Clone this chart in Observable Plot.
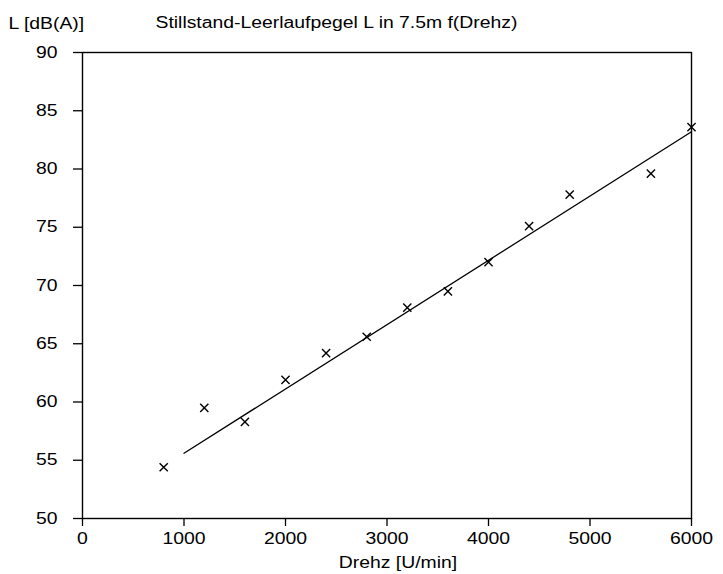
<!DOCTYPE html>
<html>
<head>
<meta charset="utf-8">
<script src="https://cdn.jsdelivr.net/npm/d3@7"></script>
<script src="https://cdn.jsdelivr.net/npm/@observablehq/plot@0.6"></script>
<style>
  html, body { margin: 0; padding: 0; background: #fff; }
  #chart { width: 723px; height: 574px; }
</style>
</head>
<body>
<div id="chart"></div>
<script>
// Measured points: engine speed [U/min] and level L [dB(A)]
const drehz = [800, 1200, 1600, 2000, 2400, 2800, 3200, 3600, 4000, 4400, 4800, 5600, 6000];
const pegel = [54.4, 59.5, 58.3, 61.9, 64.2, 65.6, 68.1, 69.5, 72.0, 75.1, 77.8, 79.6, 83.6];
// Fitted line end points
const fitDrehz = [1000, 6000];
const fitPegel = [55.6, 83.2];
// Axis ticks
const xTicks = [0, 1000, 2000, 3000, 4000, 5000, 6000];
const yTicks = [50, 55, 60, 65, 70, 75, 80, 85, 90];
// Texts
const titleText = "Stillstand-Leerlaufpegel L in 7.5m f(Drehz)";
const yLabel = "L [dB(A)]";
const xLabel = "Drehz [U/min]";

const points = drehz.map((d, i) => ({x: d, y: pegel[i]}));
const fit = fitDrehz.map((d, i) => ({x: d, y: fitPegel[i]}));

const chart = Plot.plot({
  width: 723,
  height: 574,
  marginTop: 52,
  marginBottom: 56,
  marginLeft: 82,
  marginRight: 32,
  style: {fontFamily: "'Liberation Sans', Arial, sans-serif", fontSize: "16px", color: "black", background: "white"},
  x: {domain: [0, 6000]},
  y: {domain: [50, 90]},
  marks: [
    Plot.frame({stroke: "black", strokeWidth: 1.4}),
    Plot.axisX({ticks: xTicks, tickSize: 8, tickPadding: 6, tickFormat: d => String(d), label: null, fontSize: 16, strokeWidth: 1.3}),
    Plot.axisY({ticks: yTicks, tickSize: 9, tickPadding: 16, tickFormat: d => String(d), label: null, fontSize: 16, strokeWidth: 1.3}),
    Plot.line(fit, {x: "x", y: "y", stroke: "black", strokeWidth: 1.3}),
    Plot.dot(points, {x: "x", y: "y", symbol: "times", r: 3.8, stroke: "black", strokeWidth: 1.4}),
    Plot.text([yLabel], {frameAnchor: "top-left", text: d => d, dx: -74, dy: -35, textAnchor: "start", fontSize: 16, fill: "black"}),
    Plot.text([titleText], {frameAnchor: "top-left", text: d => d, dx: 73, dy: -36, textAnchor: "start", fontSize: 16, fill: "black"}),
    Plot.text([xLabel], {frameAnchor: "bottom", text: d => d, dx: 11, dy: 49, textAnchor: "middle", fontSize: 16, fill: "black"})
  ]
});

document.getElementById("chart").appendChild(chart);

// The reference font is horizontally stretched; widen glyphs to match
chart.querySelectorAll("text").forEach(t => {
  const len = t.getComputedTextLength();
  if (len > 0) {
    t.setAttribute("textLength", (len * 1.21).toFixed(1));
    t.setAttribute("lengthAdjust", "spacingAndGlyphs");
  }
});
</script>
</body>
</html>
